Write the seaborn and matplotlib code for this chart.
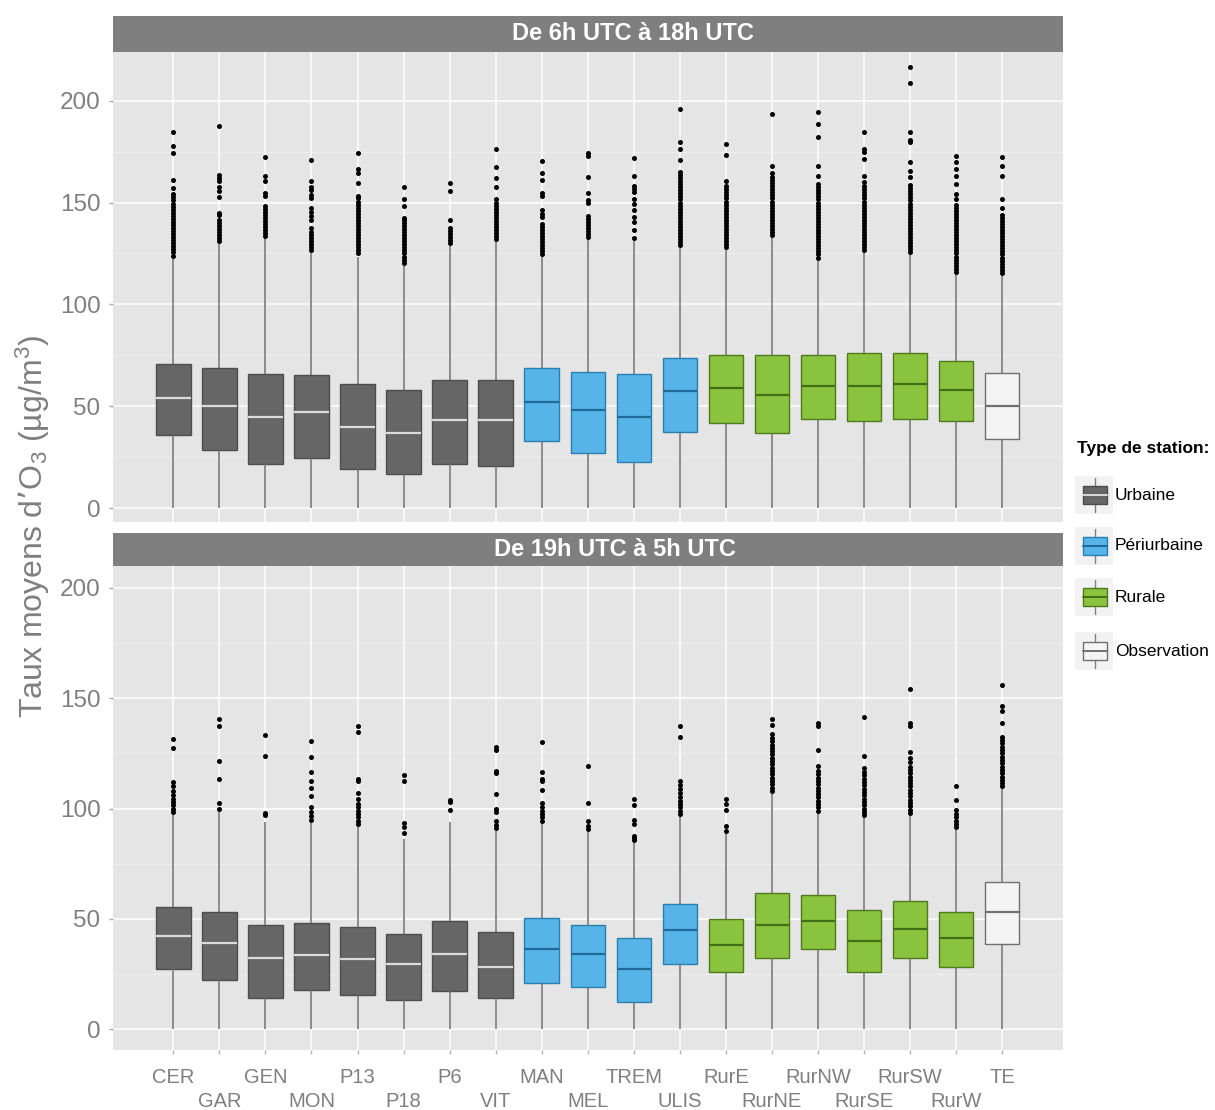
import numpy as np
import pandas as pd
import matplotlib
matplotlib.use("Agg")
import matplotlib.pyplot as plt
import seaborn as sns
from matplotlib.patches import Rectangle
from matplotlib.ticker import FixedLocator

# stations and their type
stations = ["CER", "GAR", "GEN", "MON", "P13", "P18", "P6", "VIT",
            "MAN", "MEL", "TREM", "ULIS",
            "RurE", "RurNE", "RurNW", "RurSE", "RurSW", "RurW", "TE"]
station_type = ["Urbaine", "Urbaine", "Urbaine", "Urbaine", "Urbaine", "Urbaine", "Urbaine", "Urbaine",
                "Périurbaine", "Périurbaine", "Périurbaine", "Périurbaine",
                "Rurale", "Rurale", "Rurale", "Rurale", "Rurale", "Rurale", "Observation"]
type_order = ["Urbaine", "Périurbaine", "Rurale", "Observation"]
panel_titles = ["De 6h UTC à 18h UTC", "De 19h UTC à 5h UTC"]

# day panel (6h-18h): whisker low, q1, median, q3, whisker high
day_lo = [0, 0, 0, 0, 0, 0, 0, 0, 0, 0, 0, 0, 0, 0, 0, 0, 0, 0, 0]
day_q1 = [35.7, 28.7, 21.7, 24.6, 19.1, 16.8, 21.7, 20.7, 32.9, 27.1, 22.9, 37.3, 42.0, 36.7, 43.7, 42.8, 43.7, 42.8, 34.0]
day_med = [54.1, 50.3, 45.0, 47.0, 40.0, 37.0, 43.2, 43.2, 52.0, 48.1, 45.0, 57.3, 58.9, 55.8, 60.2, 60.2, 61.1, 57.8, 50.3]
day_q3 = [71.0, 69.0, 66.1, 65.2, 61.1, 58.1, 63.1, 63.1, 69.0, 66.9, 66.1, 73.5, 75.2, 75.2, 75.2, 76.0, 76.0, 72.2, 66.4]
day_hi = [123.3, 130.0, 132.4, 125.8, 123.3, 120.0, 129.0, 131.3, 123.7, 132.4, 131.3, 128.3, 127.5, 133.3, 122.5, 125.8, 125.0, 115.4, 114.7]

day_out = [
    [124, 125.5, 127, 128.5, 130, 131.5, 133, 134.5, 136, 137.5, 139, 140.5, 142, 143.5, 145, 146.5, 148, 149.5, 151, 152.5, 154, 157, 161, 174.5, 177.5, 184.5],
    [131, 132.5, 134, 135.5, 137, 138.5, 140, 141.5, 144, 145, 152.5, 155.5, 157.5, 160.5, 162, 163.5, 187.5],
    [133.5, 135, 136.5, 138, 139.5, 141, 142.5, 144, 145.5, 147, 148.5, 153, 154.5, 160.5, 163, 172.5],
    [126.5, 128, 129.5, 131, 132.5, 134, 135.5, 137.5, 141.5, 143.5, 145.5, 147.5, 152, 153.5, 156, 157.5, 160.5, 171],
    [125, 126.5, 128, 129.5, 131, 132.5, 134, 135.5, 137, 138.5, 140, 141.5, 143, 144.5, 146, 147.5, 149, 150.5, 152, 153, 159.5, 164.5, 166.5, 174.5],
    [120.5, 122, 123.5, 125, 126.5, 128, 129.5, 131, 132.5, 134, 135.5, 137, 138.5, 140, 141.5, 142.5, 148.5, 151.5, 157.5],
    [130, 131.5, 133, 134.5, 136, 137.5, 141.5, 155.5, 159.5],
    [132, 133.5, 135, 136.5, 138, 139.5, 141, 142.5, 144, 145.5, 147, 148.5, 150, 151.5, 157.5, 162, 167.5, 176.5],
    [124.5, 126, 127.5, 129, 130.5, 132, 133.5, 135, 136.5, 138, 139.5, 143, 144.5, 146.5, 153, 154.5, 161, 164.5, 170.5],
    [133, 134.5, 136, 137.5, 139, 140.5, 142, 143.5, 150, 151, 154.5, 162.5, 173, 174.5],
    [132.5, 136.5, 140.5, 143, 146.5, 149.5, 151.5, 155, 156.5, 158, 163, 172],
    [129, 130.5, 132, 133.5, 135, 136.5, 138, 139.5, 141, 142.5, 144, 145.5, 147, 148.5, 150, 151.5, 153, 154.5, 156, 157.5, 159, 160.5, 162, 163.5, 165, 171, 176.5, 179.5, 196],
    [128, 129.5, 131, 132.5, 134, 135.5, 137, 138.5, 140, 141.5, 143, 144.5, 146, 147.5, 149, 150.5, 152, 153.5, 155, 156.5, 158, 160.5, 173.5, 178.5],
    [134, 135.5, 137, 138.5, 140, 141.5, 143, 144.5, 146, 147.5, 149, 150.5, 152, 153.5, 155, 156.5, 158, 159.5, 161, 162.5, 164.5, 168, 193.5],
    [123, 124.5, 126, 127.5, 129, 130.5, 132, 133.5, 135, 136.5, 138, 139.5, 141, 142.5, 144, 145.5, 147, 148.5, 150, 151.5, 153, 154.5, 156, 157.5, 159, 163, 168, 182, 188.5, 194.5],
    [126.5, 128, 129.5, 131, 132.5, 134, 135.5, 137, 138.5, 140, 141.5, 143, 144.5, 146, 147.5, 149, 150.5, 152, 153.5, 155, 156.5, 158, 160, 163, 171.5, 175, 176.5, 184.5],
    [125.5, 127, 128.5, 130, 131.5, 133, 134.5, 136, 137.5, 139, 140.5, 142, 143.5, 145, 146.5, 148, 149.5, 151, 152.5, 154, 155.5, 157, 158.5, 162.5, 165.5, 170, 179.5, 180.5, 184.5, 208.5, 216.5],
    [116, 117.5, 119, 120.5, 122, 123.5, 125, 126.5, 128, 129.5, 131, 132.5, 134, 135.5, 137, 138.5, 140, 141.5, 143, 144.5, 146, 147.5, 149, 151.5, 154, 159, 163, 166.5, 170, 173],
    [115.5, 117, 118.5, 120, 121.5, 123, 124.5, 126, 127.5, 129, 130.5, 132, 133.5, 135, 136.5, 138, 139.5, 141, 142.5, 144, 147.5, 151.5, 163, 168, 172.5],
]

# night panel (19h-5h)
night_lo = [0, 0, 0, 0, 0, 0, 0, 0, 0, 0, 0, 0, 0, 0, 0, 0, 0, 0, 0]
night_q1 = [27.3, 22.2, 14.2, 17.6, 15.4, 13.3, 17.4, 14.0, 21.0, 19.1, 12.3, 29.5, 25.9, 32.1, 36.2, 25.9, 32.1, 28.2, 38.4]
night_med = [42.2, 39.2, 32.4, 33.6, 31.6, 29.5, 34.1, 28.2, 36.3, 34.1, 27.3, 44.7, 38.1, 47.3, 49.0, 40.1, 45.2, 41.3, 52.9]
night_q3 = [55.5, 53.2, 47.3, 48.3, 46.4, 43.0, 49.0, 44.0, 50.3, 47.3, 41.3, 56.7, 50.0, 61.9, 60.9, 54.1, 58.0, 53.2, 66.6]
night_hi = [97.3, 99.0, 93.9, 94.7, 92.2, 86.2, 93.9, 89.6, 93.9, 89.9, 84.5, 96.8, 88.7, 107.5, 98.5, 96.4, 97.3, 90.4, 109.2]

night_out = [
    [98.5, 100, 101.5, 103, 104.5, 106, 108, 110, 112, 127.5, 131.5],
    [100, 102.5, 113.5, 121.5, 137.5, 140.5],
    [97, 98, 124, 133.5],
    [95, 96.5, 98.5, 100.5, 105.5, 109.5, 112.5, 116.5, 123.5, 130.5],
    [93, 94.5, 96, 97.5, 99, 100.5, 102, 104.5, 107, 112.5, 113.5, 134.5, 137.5],
    [89, 91.5, 93.5, 112.5, 115],
    [99.5, 103, 104],
    [91, 92.5, 94.5, 98.5, 100, 106.5, 116, 117, 126.5, 128],
    [94.5, 96, 97.5, 99, 100.5, 102.5, 108.5, 112.5, 113.5, 116.5, 130],
    [90.5, 92, 94.5, 102.5, 119.5],
    [85.5, 86.5, 87.5, 93, 95, 101.5, 104.5],
    [97.5, 99, 100.5, 102, 103.5, 105, 107, 109, 110.5, 112.5, 132.5, 137.5],
    [90, 92, 99.5, 102, 104.5],
    [108, 109.5, 111, 112.5, 114, 115.5, 117, 118.5, 120, 121.5, 123, 124.5, 126, 127.5, 129, 130.5, 132, 134, 138, 140.5],
    [99, 100.5, 102, 103.5, 105, 106.5, 108, 109.5, 111, 112.5, 114, 115.5, 117, 119.5, 126.5, 137.5, 139],
    [97, 98.5, 100, 101.5, 103, 104.5, 106, 107.5, 109, 110.5, 112, 113.5, 115, 116.5, 118.5, 124, 141.5],
    [98, 99.5, 101, 102.5, 104, 105.5, 107, 108.5, 110, 111.5, 113, 114.5, 116, 117.5, 119, 121, 123, 125.5, 137.5, 139, 154],
    [91.5, 93, 94.5, 96, 97.5, 99.5, 104, 110],
    [110, 111.5, 113, 114.5, 116, 117.5, 119, 120.5, 122, 123.5, 125, 126.5, 128, 129.5, 131, 132.5, 139, 144, 146.5, 156],
]

fill_col = {"Urbaine": "#666666", "Périurbaine": "#56B4E9", "Rurale": "#8AC43F", "Observation": "#F4F4F4"}
edge_col = {"Urbaine": "#4D4D4D", "Périurbaine": "#2B7FB0", "Rurale": "#4F7A1C", "Observation": "#707070"}
median_col = {"Urbaine": "#DADADA", "Périurbaine": "#1F6A96", "Rurale": "#446E16", "Observation": "#707070"}

sns.set_theme(style="darkgrid")
plt.rcParams["font.family"] = ["Liberation Sans", "DejaVu Sans"]
plt.rcParams["mathtext.default"] = "regular"

W, H = 1215, 1110
fig = plt.figure(figsize=(W / 100, H / 100), dpi=100)
fig.patch.set_facecolor("white")


def px_axes(x0, y0, x1, y1):
    return fig.add_axes([x0 / W, 1 - y1 / H, (x1 - x0) / W, (y1 - y0) / H])


def box_table(lo, q1, med, q3, hi):
    rows = []
    for i, st in enumerate(stations):
        for v in (lo[i], q1[i], med[i], q3[i], hi[i]):
            rows.append((st, station_type[i], v))
    return pd.DataFrame(rows, columns=["station", "type", "value"])


def outlier_table(outs):
    rows = [(st, v) for st, vals in zip(stations, outs) for v in vals]
    return pd.DataFrame(rows, columns=["station", "value"])


def draw_panel(ax, box_df, out_df, ylim):
    for t in type_order:
        sub = box_df[box_df["type"] == t]
        sns.boxplot(data=sub, x="station", y="value", order=stations, ax=ax,
                    whis=(0, 100), width=0.75, color=fill_col[t], saturation=1,
                    linecolor=edge_col[t], linewidth=1.0, showcaps=False,
                    medianprops={"color": median_col[t], "linewidth": 1.6},
                    whiskerprops={"color": "#6E6E6E", "linewidth": 1.1})
    sns.stripplot(data=out_df, x="station", y="value", order=stations, ax=ax,
                  jitter=False, color="black", size=3.6, linewidth=0, zorder=3)
    ax.set_facecolor("#E5E5E5")
    ax.set_xlim(-1.31, 19.32)
    ax.set_ylim(*ylim)
    ax.set_xlabel("")
    ax.set_ylabel("")
    ax.set_xticks(range(len(stations)))
    ax.set_yticks([0, 50, 100, 150, 200])
    ax.yaxis.set_minor_locator(FixedLocator([25, 75, 125, 175]))
    ax.set_axisbelow(True)
    ax.grid(True, which="major", color="white", linewidth=1.1)
    ax.grid(True, which="minor", axis="y", color="#F2F2F2", linewidth=0.6)
    for s in ax.spines.values():
        s.set_visible(False)
    ax.tick_params(axis="y", which="major", left=True, length=3, width=1, color="#A8A8A8",
                   pad=6, labelsize=17.5, labelcolor="#7F7F7F")
    ax.tick_params(which="minor", length=0)


ax1 = px_axes(113, 51.7, 1063, 521.7)
draw_panel(ax1, box_table(day_lo, day_q1, day_med, day_q3, day_hi), outlier_table(day_out), (-6.6, 224))
ax1.tick_params(axis="x", bottom=False, labelbottom=False)

ax2 = px_axes(113, 565.5, 1063, 1050)
draw_panel(ax2, box_table(night_lo, night_q1, night_med, night_q3, night_hi), outlier_table(night_out), (-9.5, 210.2))
ax2.set_xticks(range(len(stations)), labels=stations)
ax2.tick_params(axis="x", bottom=True, length=3, width=1, color="#B3B3B3",
                pad=10, labelsize=14.5, labelcolor="#7F7F7F")
# staggered labels: every second tick is long and its label sits on a lower row
for i, tk in enumerate(ax2.xaxis.get_major_ticks()):
    if i % 2 == 1:
        tk.tick1line.set_markersize(25)
        tk.set_pad(27.2)

# facet strips
for (y0, y1), title, xc in zip([(16, 51.7), (532.5, 565.5)], panel_titles, [633, 615]):
    sax = px_axes(113, y0, 1063, y1)
    sax.set_facecolor("#7F7F7F")
    sax.set_xticks([])
    sax.set_yticks([])
    for s in sax.spines.values():
        s.set_visible(False)
    sax.text((xc - 113) / 950, 0.5, title, transform=sax.transAxes, ha="center", va="center",
             color="white", fontsize=17, fontweight="bold")

fig.text(33 / W, 1 - 526 / H, "Taux moyens d’O$_3$ (µg/m$^3$)", rotation=90,
         ha="center", va="center", fontsize=23, color="#7F7F7F")

# legend
lax = px_axes(1065, 425, 1215, 690)
lax.set_xlim(1065, 1215)
lax.set_ylim(690, 425)
lax.axis("off")
lax.text(1077, 448, "Type de station:", ha="left", va="center", fontsize=12.5,
         fontweight="bold", color="black")
for t, yc in zip(type_order, [495, 546, 597, 651]):
    lax.add_patch(Rectangle((1075, yc - 19), 38, 38, facecolor="#F2F2F2", edgecolor="none"))
    lax.plot([1095, 1095], [yc - 17, yc + 17], color="#7F7F7F", linewidth=1)
    lax.add_patch(Rectangle((1083, yc - 9), 24, 18, facecolor=fill_col[t],
                            edgecolor=edge_col[t], linewidth=1, zorder=3))
    lax.plot([1083, 1107], [yc, yc], color=median_col[t], linewidth=1.4, zorder=4)
    lax.text(1115, yc, t, ha="left", va="center", fontsize=12.5, color="black")

fig.savefig("out.png", dpi=100, facecolor="white")
